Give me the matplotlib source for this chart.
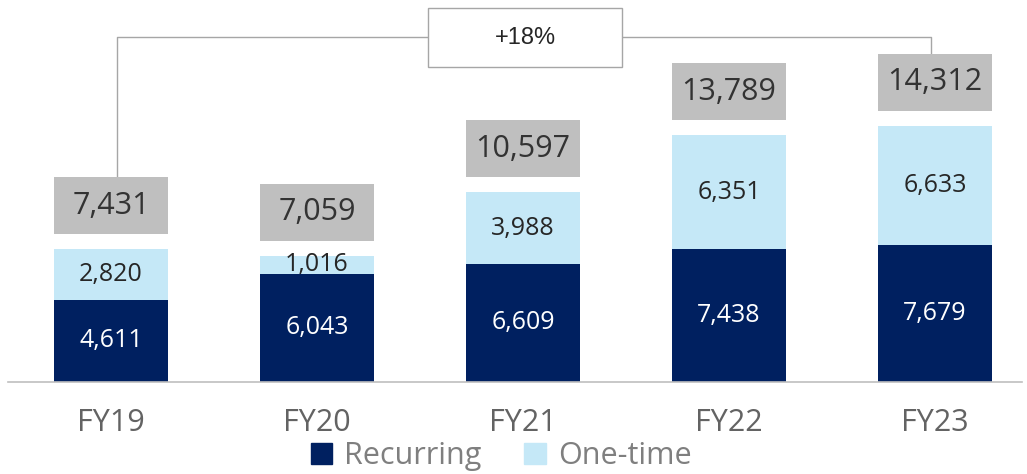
import matplotlib.pyplot as plt
from matplotlib.patches import Rectangle, Patch

years = ['FY19', 'FY20', 'FY21', 'FY22', 'FY23']
recurring = [4611, 6043, 6609, 7438, 7679]
one_time = [2820, 1016, 3988, 6351, 6633]
totals = [7431, 7059, 10597, 13789, 14312]
growth = '+18%'

navy = '#002060'
light = '#C5E8F7'
grey_box = '#BFBFBF'
line_col = '#A6A6A6'

plt.rcParams['font.family'] = ['Open Sans', 'DejaVu Sans']

fig = plt.figure(figsize=(10.27, 4.74), dpi=100)
ax = fig.add_axes([0, 0, 1, 1])
upp = 55.9  # data units per pixel
ax.set_xlim(-111 / 206, (1027 - 111) / 206)
ax.set_ylim(-92 * upp, 382 * upp)
ax.axis('off')

x = list(range(len(years)))
w = 0.555
ax.bar(x, recurring, w, color=navy, zorder=2)
ax.bar(x, one_time, w, bottom=recurring, color=light, zorder=2)
ax.axhline(0, xmin=0.008, xmax=0.995, color='#BFBFBF', lw=1.2, zorder=3)

gap = 15 * upp
bh = 57 * upp
for i in x:
    ax.text(i, recurring[i] / 2, f'{recurring[i]:,}', ha='center', va='center',
            color='white', fontsize=18, zorder=4)
    ax.text(i, recurring[i] + one_time[i] / 2, f'{one_time[i]:,}', ha='center', va='center',
            color='#262626', fontsize=18, zorder=4)
    y0 = totals[i] + gap
    ax.add_patch(Rectangle((i - w / 2, y0), w, bh, facecolor=grey_box, edgecolor='none', zorder=2))
    ax.text(i, y0 + bh / 2, f'{totals[i]:,}', ha='center', va='center',
            color='#333333', fontsize=22, zorder=4)
    ax.text(i, -41 * upp, years[i], ha='center', va='center', color='#636363', fontsize=22)

# growth bracket
top = 345 * upp
left_top = totals[0] + gap + bh
right_top = totals[-1] + gap + bh
ax.plot([0.03, 0.03, 3.98, 3.98], [left_top, top, top, right_top], color=line_col, lw=1, zorder=1)
bx0, bx1 = (428 - 111) / 206, (622 - 111) / 206
ax.add_patch(Rectangle((bx0, 315 * upp), bx1 - bx0, 59 * upp, facecolor='white',
                       edgecolor=line_col, lw=1, zorder=3))
ax.text((bx0 + bx1) / 2, 344.5 * upp, growth, ha='center', va='center', fontsize=17,
        color='#262626', family=['Liberation Sans', 'DejaVu Sans'], zorder=4)

handles = [Patch(color=navy, label='Recurring'), Patch(color=light, label='One-time')]
fig.legend(handles=handles, loc='lower center', bbox_to_anchor=(0.488, -0.052), ncol=2,
           frameon=False, fontsize=22, labelcolor='#7F7F7F', handlelength=0.7,
           handleheight=0.7, handletextpad=0.4, columnspacing=1.4)

fig.savefig('out.png', dpi=100)
